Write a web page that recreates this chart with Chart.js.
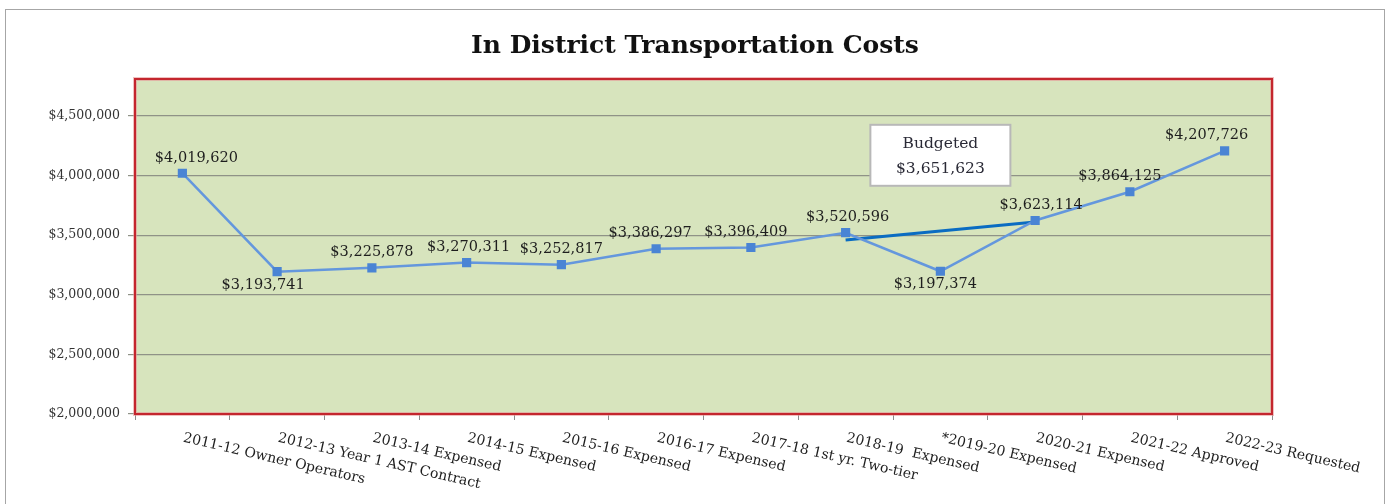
<!DOCTYPE html>
<html>
<head>
<meta charset="utf-8">
<script src="https://cdn.jsdelivr.net/npm/chart.js@4"></script>
<style>
  html, body { margin: 0; padding: 0; background: #fff; overflow: hidden; }
  #frame { position: absolute; left: 5px; top: 9px; width: 1378px; height: 520px; border: 1px solid #a6a6a6; }
  #wrap { position: absolute; left: 0; top: 0; width: 1390px; height: 504px; }
</style>
</head>
<body>
<div id="frame"></div>
<div id="wrap"><canvas id="costChart" width="1390" height="504"></canvas></div>
<script>
// ── data ──────────────────────────────────────────────────────────────────
const categories = [
  '2011-12 Owner Operators', '2012-13 Year 1 AST Contract', '2013-14 Expensed',
  '2014-15 Expensed', '2015-16 Expensed', '2016-17 Expensed',
  '2017-18 1st yr. Two-tier', '2018-19  Expensed', '*2019-20 Expensed',
  '2020-21 Expensed', '2021-22 Approved', '2022-23 Requested'
];
const costs = [4019620, 3193741, 3225878, 3270311, 3252817, 3386297,
               3396409, 3520596, 3197374, 3623114, 3864125, 4207726];
// hand-drawn budget trend between 2018-19 and 2020-21
const budgetTrend = [null, null, null, null, null, null, null, 3460000, null, 3610000, null, null];
const budgetNote = ['Budgeted', '$3,651,623'];
const yTickValues = [2000000, 2500000, 3000000, 3500000, 4000000, 4500000];

// label placement per point: 'above' / 'below', plus a small x nudge
const labelSide = ['above', 'below', 'above', 'above', 'above', 'above',
                   'above', 'above', 'below', 'above', 'above', 'above'];
const labelNudge = [14, -14, 0, 2, 0, -6, -5, 2, -5, 6, -10, -18];

const SERIF = '"DejaVu Serif", "Liberation Serif", serif';
const money = v => '$' + Math.round(v).toLocaleString('en-US');

// ── plugins ───────────────────────────────────────────────────────────────
const plotArea = {
  id: 'plotArea',
  beforeDraw(chart) {
    const { ctx, chartArea: a } = chart;
    ctx.save();
    ctx.fillStyle = '#d7e4bd';
    ctx.fillRect(a.left, a.top, a.right - a.left, a.bottom - a.top);
    ctx.restore();
  },
  beforeDatasetsDraw(chart) {
    const { ctx, chartArea: a } = chart;
    ctx.save();
    ctx.strokeStyle = 'rgba(230,150,150,0.6)';
    ctx.lineWidth = 4;
    ctx.strokeRect(a.left, a.top, a.right - a.left, a.bottom - a.top);
    ctx.strokeStyle = '#c4262e';
    ctx.lineWidth = 2;
    ctx.strokeRect(a.left, a.top, a.right - a.left, a.bottom - a.top);
    ctx.restore();
  }
};

const valueLabels = {
  id: 'valueLabels',
  afterDatasetsDraw(chart) {
    const { ctx } = chart;
    const meta = chart.getDatasetMeta(0);
    ctx.save();
    ctx.font = '14.5px ' + SERIF;
    ctx.fillStyle = '#1e1e1e';
    ctx.textAlign = 'center';
    meta.data.forEach((pt, i) => {
      const below = labelSide[i] === 'below';
      ctx.textBaseline = below ? 'top' : 'bottom';
      ctx.fillText(money(costs[i]), pt.x + labelNudge[i], below ? pt.y + 6 : pt.y - 8);
    });
    ctx.restore();
  }
};

const budgetBox = {
  id: 'budgetBox',
  afterDatasetsDraw(chart) {
    const { ctx } = chart;
    const x = chart.scales.x.getPixelForValue(8);
    const y = chart.scales.y.getPixelForValue(4170000);
    const w = 140, h = 61;
    ctx.save();
    ctx.fillStyle = '#fff';
    ctx.fillRect(x - w / 2, y - h / 2, w, h);
    ctx.strokeStyle = '#b8b8b8';
    ctx.lineWidth = 2;
    ctx.strokeRect(x - w / 2, y - h / 2, w, h);
    ctx.font = '15.5px ' + SERIF;
    ctx.fillStyle = '#2a2a36';
    ctx.textAlign = 'center';
    ctx.textBaseline = 'middle';
    ctx.fillText(budgetNote[0], x, y - 11);
    ctx.fillText(budgetNote[1], x, y + 14);
    ctx.restore();
  }
};

// slanted category labels hanging down to the right
const slantLabels = {
  id: 'slantLabels',
  afterDraw(chart) {
    const { ctx } = chart;
    const xs = chart.scales.x;
    const top = chart.chartArea.bottom;
    ctx.save();
    ctx.font = '14px ' + SERIF;
    ctx.fillStyle = '#1e1e1e';
    ctx.textAlign = 'left';
    ctx.textBaseline = 'middle';
    categories.forEach((c, i) => {
      ctx.save();
      ctx.translate(xs.getPixelForValue(i) + 1, top + 24);
      ctx.rotate(13 * Math.PI / 180);
      ctx.fillText(c, 0, 0);
      ctx.restore();
    });
    ctx.restore();
  }
};

// ── chart ─────────────────────────────────────────────────────────────────
new Chart(document.getElementById('costChart'), {
  type: 'line',
  data: {
    labels: categories,
    datasets: [
      {
        label: 'Costs', data: costs,
        borderColor: '#6497dd', borderWidth: 2.5,
        pointStyle: 'rect', pointRadius: 6.5, pointBorderWidth: 0,
        pointBackgroundColor: '#4a84d4', tension: 0
      },
      {
        label: 'Budgeted', data: budgetTrend, spanGaps: true,
        borderColor: '#0a6cc2', borderWidth: 3, pointRadius: 0, tension: 0
      }
    ]
  },
  options: {
    responsive: false,
    animation: false,
    layout: { padding: 0 },
    plugins: {
      legend: { display: false },
      tooltip: { enabled: false },
      title: {
        display: true,
        text: 'In District Transportation Costs',
        color: '#111',
        font: { family: SERIF, size: 25, weight: 'bold', lineHeight: 1.2 },
        padding: { top: 31, bottom: 18 }
      }
    },
    scales: {
      x: {
        offset: true,
        grid: { offset: true, drawOnChartArea: false, drawTicks: true, tickLength: 6, color: '#8c8c8c' },
        border: { display: false },
        ticks: { display: false },
        afterFit: s => { s.height = 90; }
      },
      y: {
        min: 2000000,
        max: 4810000,
        afterBuildTicks: s => { s.ticks = yTickValues.map(v => ({ value: v })); },
        grid: { color: '#8f9287', lineWidth: 1.2, drawTicks: true, tickLength: 7 },
        border: { display: false },
        ticks: {
          padding: 8,
          color: '#333',
          font: { family: SERIF, size: 12.5 },
          callback: v => money(v)
        },
        afterFit: s => { s.width = 135; }
      },
      // empty right-hand axis that only reserves the white margin
      yRight: {
        position: 'right',
        min: 2000000,
        max: 4810000,
        grid: { display: false },
        border: { display: false },
        ticks: { display: false },
        afterFit: s => { s.width = 118; }
      }
    }
  },
  plugins: [plotArea, valueLabels, budgetBox, slantLabels]
});
</script>
</body>
</html>
